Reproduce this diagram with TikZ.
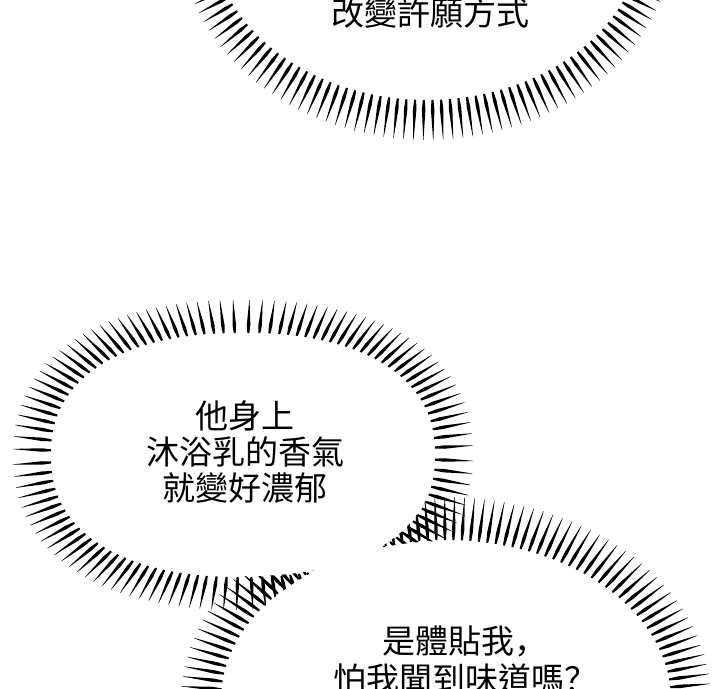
\documentclass[tikz,border=0pt]{standalone}
\usepackage{fontspec}
\newfontfamily\cjk{Noto Sans CJK TC}
\newfontfamily\cjkp{Noto Sans CJK SC}
\tikzset{
  burst/.style={fill=black},
  txt/.style={font=\cjk\fontsize{33pt}{37pt}\selectfont, text=black, inner sep=0pt, anchor=base},
}
% #1 cx, #2 cy, #3 inner a, #4 inner b, #5 outer a, #6 outer b, #7 count, #8 exponent 2/p
\newcommand\burstlines[8]{%
  \pgfmathsetmacro\bqa{sqrt(#5)}%
  \pgfmathsetmacro\bqb{sqrt(#6)}%
  \pgfmathsetmacro\bstep{360/#7}%
  \foreach \k in {1,...,#7}{%
    \pgfmathsetmacro\bph{\bstep*(\k+0.37)}%
    \pgfmathsetmacro\bcc{\bqb*cos(\bph)}%
    \pgfmathsetmacro\bss{\bqa*sin(\bph)}%
    \pgfmathsetmacro\bnn{sqrt(\bcc*\bcc+\bss*\bss)}%
    \pgfmathsetmacro\bct{\bcc/\bnn}%
    \pgfmathsetmacro\bst{\bss/\bnn}%
    \pgfmathsetmacro\bctp{(\bct<0?-1:1)*pow(abs(\bct)+0.00001,#8)}%
    \pgfmathsetmacro\bstp{(\bst<0?-1:1)*pow(abs(\bst)+0.00001,#8)}%
    \pgfmathsetmacro\bix{#1+#3*\bctp}%
    \pgfmathsetmacro\biy{#2+#4*\bstp}%
    \pgfmathsetmacro\bux{#1+#5*\bctp}%
    \pgfmathsetmacro\buy{#2+#6*\bstp}%
    \pgfmathsetmacro\bdx{\bux-\bix}%
    \pgfmathsetmacro\bdy{\buy-\biy}%
    \pgfmathsetmacro\bL{sqrt(\bdx*\bdx+\bdy*\bdy)}%
    \pgfmathsetmacro\bnx{-\bdy/\bL}%
    \pgfmathsetmacro\bny{\bdx/\bL}%
    \pgfmathsetmacro\bmx{\bix+0.25*\bdx}%
    \pgfmathsetmacro\bmy{\biy+0.25*\bdy}%
    \fill[burst] ({\bix+1.0*\bnx},{\biy+1.0*\bny}) -- ({\bmx+1.75*\bnx},{\bmy+1.75*\bny})
      -- ({\bux+0.15*\bnx},{\buy+0.15*\bny}) -- ({\bux-0.15*\bnx},{\buy-0.15*\bny})
      -- ({\bmx-1.75*\bnx},{\bmy-1.75*\bny}) -- ({\bix-1.0*\bnx},{\biy-1.0*\bny}) -- cycle;
  }%
}
\begin{document}
\begin{tikzpicture}[x=1pt,y=-1pt]
\useasboundingbox (0,0) rectangle (720,688);
\fill[white] (0,0) rectangle (720,688);
\clip (0,0) rectangle (720,688);
% burst lines
\burstlines{427}{-70}{216}{170}{248}{210}{144}{1}
\burstlines{243}{455}{192}{122}{230}{155}{120}{0.87}
\burstlines{446}{700}{225}{160}{265}{203}{146}{1}
% interiors (same shapes as the inner ends of the lines)
\fill[white] (427,-70) ellipse [x radius=215pt, y radius=169pt];
\fill[white] plot[domain=0:360, samples=145, smooth cycle, variable=\t]
  ({243+191*(cos(\t)<0?-1:1)*pow(abs(cos(\t))+0.00001,0.87)},
   {455+121*(sin(\t)<0?-1:1)*pow(abs(sin(\t))+0.00001,0.87)});
\fill[white] (446,700) ellipse [x radius=224pt, y radius=159pt];
% texts
\node[txt] (ta) at (430,25.5) {改變許願方式};
\node[txt] (tb1) at (245,428) {他身上};
\node[txt] (tb2) at (245,464) {沐浴乳的香氣};
\node[txt] (tb3) at (245,500) {就變好濃郁};
\node[txt] (tc1) at (465,653.5) {是體貼我{\cjkp ，}};
\node[txt] (tc2) at (465,691.5) {怕我聞到味道嗎{\cjkp ？}};
\end{tikzpicture}
\end{document}
